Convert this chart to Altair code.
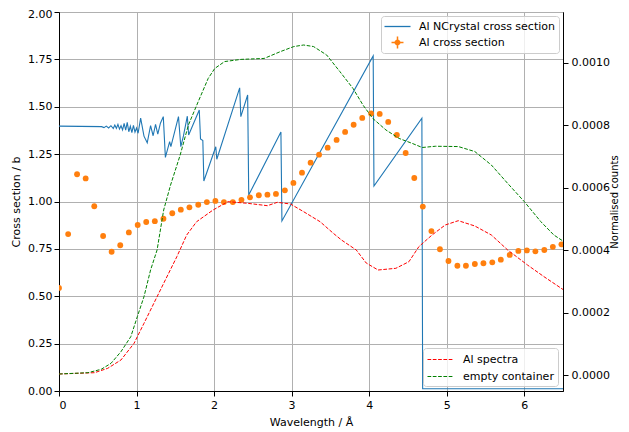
import altair as alt
import pandas as pd

# ---------------- data ----------------
# NCrystal total cross section (barn) vs wavelength (Angstrom)
nc_lam = [0.00, 0.55, 0.58, 0.61, 0.64, 0.67, 0.70, 0.72, 0.74, 0.76, 0.78, 0.80,
          0.82, 0.84, 0.86, 0.88, 0.90, 0.92, 0.94, 0.96, 0.98, 1.00, 1.02, 1.053,
          1.096, 1.138, 1.181, 1.214, 1.245, 1.274, 1.308, 1.345, 1.372, 1.427,
          1.443, 1.541, 1.571, 1.605, 1.655, 1.672, 1.809, 1.825, 1.855, 1.868,
          2.022, 2.035, 2.330, 2.345, 2.433, 2.447, 2.862, 2.875, 4.052, 4.062,
          4.680, 4.690, 6.500]
nc_xs = [1.398, 1.395, 1.390, 1.398, 1.388, 1.400, 1.385, 1.403, 1.386, 1.407, 1.382, 1.400,
         1.378, 1.412, 1.376, 1.418, 1.368, 1.397, 1.364, 1.402, 1.366, 1.388, 1.360, 1.440,
         1.345, 1.310, 1.400, 1.347, 1.407, 1.355, 1.413, 1.448, 1.233, 1.316,
         1.289, 1.448, 1.289, 1.346, 1.450, 1.351, 1.483, 1.330, 1.322, 1.108,
         1.289, 1.223, 1.600, 1.448, 1.562, 1.034, 1.367, 0.897, 1.768, 1.082,
         1.440, 0.012, 0.012]

# measured Al cross section (barn)
pts_lam = [0.000, 0.118, 0.233, 0.344, 0.455, 0.569, 0.679, 0.790, 0.901, 1.015,
           1.125, 1.236, 1.347, 1.461, 1.571, 1.682, 1.796, 1.907, 2.017, 2.127,
           2.242, 2.353, 2.463, 2.577, 2.688, 2.798, 2.913, 3.023, 3.134, 3.245,
           3.354, 3.465, 3.580, 3.690, 3.800, 3.911, 4.025, 4.136, 4.246, 4.357,
           4.471, 4.582, 4.692, 4.803, 4.913, 5.023, 5.138, 5.248, 5.363, 5.474,
           5.588, 5.698, 5.813, 5.924, 6.034, 6.144, 6.259, 6.369, 6.480]
pts_xs = [0.544, 0.828, 1.144, 1.122, 0.975, 0.818, 0.735, 0.769, 0.837, 0.876,
          0.892, 0.896, 0.909, 0.938, 0.957, 0.969, 0.983, 0.997, 1.003, 0.997,
          0.997, 1.009, 1.022, 1.033, 1.036, 1.040, 1.059, 1.098, 1.152, 1.205,
          1.247, 1.284, 1.325, 1.367, 1.405, 1.441, 1.465, 1.462, 1.420, 1.351,
          1.256, 1.124, 0.973, 0.844, 0.748, 0.686, 0.661, 0.661, 0.670, 0.674,
          0.679, 0.693, 0.718, 0.739, 0.742, 0.737, 0.744, 0.761, 0.774]

# Al spectra (normalised counts)
red_lam = [0.000, 0.459, 0.628, 0.799, 0.968, 1.096, 1.223, 1.350, 1.520, 1.647,
           1.775, 1.987, 2.178, 2.433, 2.688, 2.815, 2.985, 3.155, 3.367, 3.538,
           3.643, 3.834, 3.962, 4.115, 4.344, 4.513, 4.641, 4.811, 4.981, 5.150,
           5.363, 5.576, 5.787, 6.042, 6.255, 6.510]
red_val = [0.0000032, 0.0000074, 0.0000214, 0.0000480, 0.0001014, 0.0001654, 0.0002294,
           0.0002934, 0.0003786, 0.0004480, 0.0004906, 0.0005280, 0.0005546, 0.0005494,
           0.0005418, 0.0005526, 0.0005472, 0.0005226, 0.0004906, 0.0004534, 0.0004320,
           0.0004000, 0.0003584, 0.0003360, 0.0003414, 0.0003626, 0.0004106, 0.0004480,
           0.0004800, 0.0004938, 0.0004768, 0.0004480, 0.0004000, 0.0003520, 0.0003146,
           0.0002720]

# empty container (normalised counts)
green_lam = [0.000, 0.373, 0.544, 0.671, 0.799, 0.926, 1.010, 1.096, 1.181, 1.265,
             1.350, 1.439, 1.563, 1.669, 1.796, 1.924, 2.009, 2.136, 2.348, 2.646,
             2.857, 3.028, 3.155, 3.283, 3.452, 3.622, 3.792, 3.920, 4.047, 4.217,
             4.386, 4.557, 4.684, 4.854, 5.150, 5.363, 5.576, 5.787, 6.000, 6.213,
             6.382, 6.510]
green_val = [0.0000032, 0.0000074, 0.0000182, 0.0000374, 0.0000746, 0.0001226, 0.0001866,
             0.0002506, 0.0003360, 0.0004000, 0.0005280, 0.0006080, 0.0007040, 0.0008000,
             0.0008750, 0.0009490, 0.0009810, 0.0010030, 0.0010100, 0.0010130, 0.0010350,
             0.0010510, 0.0010560, 0.0010510, 0.0010240, 0.0009710, 0.0009170, 0.0008640,
             0.0008210, 0.0007840, 0.0007570, 0.0007410, 0.0007280, 0.0007320, 0.0007310,
             0.0007150, 0.0006720, 0.0006130, 0.0005550, 0.0004910, 0.0004480, 0.0004270]

names_left = ["Al NCrystal cross section", "Al cross section"]
names_right = ["Al spectra", "empty container"]
x_ticks = [0, 1, 2, 3, 4, 5, 6]
left_ticks = [0, 0.25, 0.5, 0.75, 1.0, 1.25, 1.5, 1.75, 2.0]
right_ticks = [0, 0.0002, 0.0004, 0.0006, 0.0008, 0.0010]

# ---------------- tables ----------------
df_nc = pd.DataFrame({"lam": nc_lam, "xs": nc_xs, "idx": range(len(nc_lam))})
df_pts = pd.DataFrame({"lam": pts_lam, "xs": pts_xs, "series": names_left[1]})
df_spec = pd.concat([
    pd.DataFrame({"lam": red_lam, "val": red_val, "series": names_right[0],
                  "idx": range(len(red_lam))}),
    pd.DataFrame({"lam": green_lam, "val": green_val, "series": names_right[1],
                  "idx": range(len(green_lam))}),
], ignore_index=True)

FONT = "DejaVu Sans"

x_enc = alt.X("lam:Q", scale=alt.Scale(domain=[0, 6.5], nice=False, zero=False),
              axis=alt.Axis(values=x_ticks, format="d", title="Wavelength / Å",
                            grid=True, labelPadding=3, titlePadding=6))
y_left = alt.Y("xs:Q", scale=alt.Scale(domain=[0, 2], nice=False, zero=False),
               axis=alt.Axis(values=left_ticks, format=".2f", title="Cross section / b",
                             orient="left", grid=True, labelPadding=2, titlePadding=6,
                             labelOffset={"condition": {"test": "datum.value >= 2", "value": 2},
                                          "value": 0}))
y_right = alt.Y("val:Q", scale=alt.Scale(domain=[-0.0000512, 0.0011616], nice=False, zero=False),
                axis=alt.Axis(values=right_ticks, format=".4f", title="Normalised counts",
                              orient="right", grid=False, labelPadding=3, titlePadding=0.5,
                              titleAngle=270, titleBaseline="top", titleFontSize=10))

# legend glyphs (unit size = 6.5 px with symbolSize 169)
line_path = "M-2,-0.1H2V0.1H-2Z"
err_path = ("M-0.92,-0.115H0.92V0.115H-0.92Z M-0.115,-0.92H0.115V0.92H-0.115Z "
            "M0.46,0A0.46,0.46 0 1,1 -0.46,0A0.46,0.46 0 1,1 0.46,0Z")
dash_path = "M-2,0H2"

leg1 = alt.Legend(title=None, orient="top-right", offset=4, symbolSize=169,
                  symbolStrokeWidth=0, symbolOpacity=1, symbolOffset=6,
                  labelOffset=15, rowPadding=4, padding=4)

line_nc = alt.Chart(df_nc).mark_line(color="#1f77b4", strokeWidth=1.1, clip=True).encode(
    x=x_enc, y=y_left, order="idx:Q")

points = alt.Chart(df_pts).mark_circle(color="#ff7f0e", size=34, opacity=1, clip=True).encode(
    x=x_enc, y=y_left)

legend_left = alt.Chart(df_pts).transform_filter("false").mark_point(
    filled=True, opacity=1, clip=True).encode(
    x=x_enc, y=y_left,
    color=alt.Color("series:N", scale=alt.Scale(domain=names_left, range=["#1f77b4", "#ff7f0e"]),
                    legend=leg1),
    shape=alt.Shape("series:N", scale=alt.Scale(domain=names_left, range=[line_path, err_path]),
                    legend=leg1),
)

left = alt.layer(line_nc, points, legend_left)

right = alt.Chart(df_spec).mark_line(strokeWidth=1.0, strokeDash=[3.7, 1.6], clip=True).encode(
    x=x_enc, y=y_right,
    color=alt.Color("series:N", scale=alt.Scale(domain=names_right, range=["red", "green"]),
                    legend=alt.Legend(title=None, orient="bottom-right", offset=5,
                                      symbolType=dash_path, symbolDash=[3.7, 1.6],
                                      symbolStrokeWidth=1.2, symbolSize=169, symbolOffset=6,
                                      labelOffset=15, rowPadding=4, padding=4)),
    detail="series:N", order="idx:Q",
)

chart = alt.layer(left, right).resolve_scale(
    y="independent", color="independent", shape="independent"
).properties(
    width=504, height=379,
    padding={"left": 51, "top": 4, "right": 58, "bottom": 41},
    autosize=alt.AutoSizeParams(type="none"),
).configure_view(stroke="black", strokeWidth=1).configure_axis(
    labelFont=FONT, labelFontSize=11, labelColor="black",
    titleFont=FONT, titleFontSize=11, titleFontWeight="normal", titleColor="black",
    tickColor="black", tickSize=5, tickWidth=1, domainColor="black", domainWidth=1,
    gridColor="#b0b0b0", gridWidth=1,
).configure_legend(
    labelFont=FONT, labelFontSize=11, labelColor="black",
    fillColor="rgba(255,255,255,0.8)", strokeColor="#cccccc", cornerRadius=3,
)

chart.save("out.html", embed_options={"renderer": "svg", "actions": False})
